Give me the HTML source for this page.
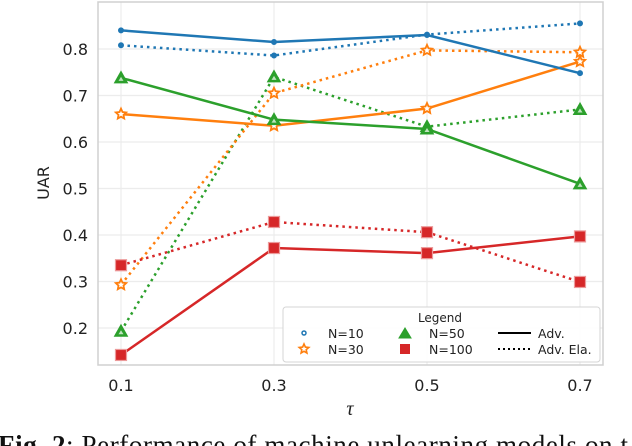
<!DOCTYPE html>
<html><head><meta charset="utf-8"><style>
body{margin:0;background:#fff;width:632px;height:446px;overflow:hidden}
svg{display:block;font-family:"DejaVu Sans","Liberation Sans",sans-serif}
</style></head><body>
<svg id="chart" width="632" height="446" viewBox="0 0 632 446">
<g id="grid"></g>
<rect x="98" y="2" width="505" height="363" fill="none" stroke="#d0d0d0" stroke-width="1.5"/>
<g id="series"></g>
<g id="axes"></g>
<g id="legend">
<rect x="283" y="307" width="317" height="55" rx="3" fill="#fff" fill-opacity="0.9" stroke="#d5d5d5"/>
<text x="440" y="322" font-size="12" text-anchor="middle" fill="#222">Legend</text>
<circle cx="304" cy="333" r="2" fill="none" stroke="#1f77b4" stroke-width="1.5"/>
<text x="328" y="338" font-size="12.5" fill="#222">N=10</text>
<text x="328" y="354" font-size="12.5" fill="#222">N=30</text>
<polygon points="405,328 399,338 411,338" fill="#2ca02c" stroke="#2ca02c"/>
<text x="429" y="338" font-size="12.5" fill="#222">N=50</text>
<rect x="400" y="344" width="10" height="10" fill="#d62728"/>
<text x="429" y="354" font-size="12.5" fill="#222">N=100</text>
<line x1="498" y1="333" x2="531" y2="333" stroke="#000" stroke-width="2"/>
<text x="538" y="338" font-size="12.5" fill="#222">Adv.</text>
<line x1="498" y1="349" x2="531" y2="349" stroke="#000" stroke-width="2" stroke-dasharray="2,3"/>
<text x="538" y="354" font-size="12.5" fill="#222">Adv. Ela.</text>
</g>
<text x="350" y="415" font-size="20" text-anchor="middle" fill="#222" font-family="Liberation Serif,serif" font-style="italic">τ</text>
<text transform="translate(49,183) rotate(-90)" font-size="16" text-anchor="middle" fill="#222">UAR</text>
<text x="-2" y="454" font-size="27" fill="#111" font-family="Liberation Serif,serif" textLength="630"><tspan font-weight="bold">Fig. 2</tspan>: Performance of machine unlearning models on t</text>
</svg>
<script>
const taus=[0.1,0.3,0.5,0.7];
const xTickLabels=["0.1","0.3","0.5","0.7"];
const yTicks=[0.2,0.3,0.4,0.5,0.6,0.7,0.8];
const n10Adv=[0.840,0.815,0.830,0.748];
const n10Ela=[0.808,0.786,0.831,0.855];
const n30Adv=[0.660,0.635,0.672,0.773];
const n30Ela=[0.293,0.705,0.797,0.793];
const n50Adv=[0.738,0.648,0.628,0.510];
const n50Ela=[0.193,0.740,0.633,0.670];
const n100Adv=[0.142,0.372,0.361,0.397];
const n100Ela=[0.335,0.428,0.406,0.299];
const NS="http://www.w3.org/2000/svg";
const X=t=>121+(t-0.1)/0.2*153;
const Y=v=>49+(0.8-v)*465;
function mk(tag,a,p){const e=document.createElementNS(NS,tag);for(const k in a)e.setAttribute(k,a[k]);p.appendChild(e);return e;}
const grid=document.getElementById('grid'),axes=document.getElementById('axes'),ser=document.getElementById('series');
yTicks.forEach(v=>{const l=mk('line',{x1:98,x2:603,y1:Y(v),y2:Y(v),stroke:'#ececec','stroke-width':1.2},grid);


const t=mk('text',{x:88,y:Y(v)+6,'font-size':16,'text-anchor':'end',fill:'#222'},axes);t.textContent=v.toFixed(1);

});
taus.forEach((t,i)=>{const l=mk('line',{x1:X(t),x2:X(t),y1:2,y2:365,stroke:'#ececec','stroke-width':1.2},grid);


const s=mk('text',{x:X(t),y:391,'font-size':16,'text-anchor':'middle',fill:'#222'},axes);s.textContent=xTickLabels[i];

});
function starPts(x,y,R,r){let p=[];for(let k=0;k<10;k++){const a=-Math.PI/2+k*Math.PI/5,rr=k%2?r:R;p.push((x+rr*Math.cos(a)).toFixed(1)+','+(y+rr*Math.sin(a)).toFixed(1));}return p.join(' ');}
function marker(g,type,c,x,y){
 if(type==='o')mk('circle',{cx:x,cy:y,r:2.5,fill:c,stroke:c},g);
 else if(type==='*')mk('polygon',{points:starPts(x,y,5.5,2.6),fill:'#fff',stroke:c,'stroke-width':1.8},g);
 else if(type==='^'){mk('polygon',{points:`${x},${y-6.5} ${x-6.5},${y+5} ${x+6.5},${y+5}`,fill:c,stroke:c,'stroke-width':1},g);
  mk('polygon',{points:`${x},${y-1} ${x-2.5},${y+3} ${x+2.5},${y+3}`,fill:'#bfe3bf'},g);}
 else mk('rect',{x:x-5.5,y:y-5.5,width:11,height:11,fill:c,stroke:'#ec9a9a',"stroke-width":1.2},g);
}
const lg=document.getElementById('legend');
mk('polygon',{points:starPts(304,349,5,2.3),fill:'#fff',stroke:'#ff7f0e','stroke-width':1.6},lg);
const defs=[[n50Ela,'#2ca02c','^',1,'n50-ela'],[n30Ela,'#ff7f0e','*',1,'n30-ela'],[n100Ela,'#d62728','s',1,'n100-ela'],[n10Ela,'#1f77b4','o',1,'n10-ela'],
[n100Adv,'#d62728','s',0,'n100-adv'],[n30Adv,'#ff7f0e','*',0,'n30-adv'],[n50Adv,'#2ca02c','^',0,'n50-adv'],[n10Adv,'#1f77b4','o',0,'n10-adv']];
defs.forEach(([vals,c,m,dot,name])=>{
 const g=mk('g',{},ser);
 
 
 const pts=vals.map((v,i)=>X(taus[i])+','+Y(v)).join(' ');
 const a={points:pts,fill:'none',stroke:c,'stroke-width':2.5};
 if(dot){a['stroke-dasharray']='2.5,4';}
 mk('polyline',a,g);
 vals.forEach((v,i)=>marker(g,m,c,X(taus[i]),Y(v)));
});
</script>
</body></html>
